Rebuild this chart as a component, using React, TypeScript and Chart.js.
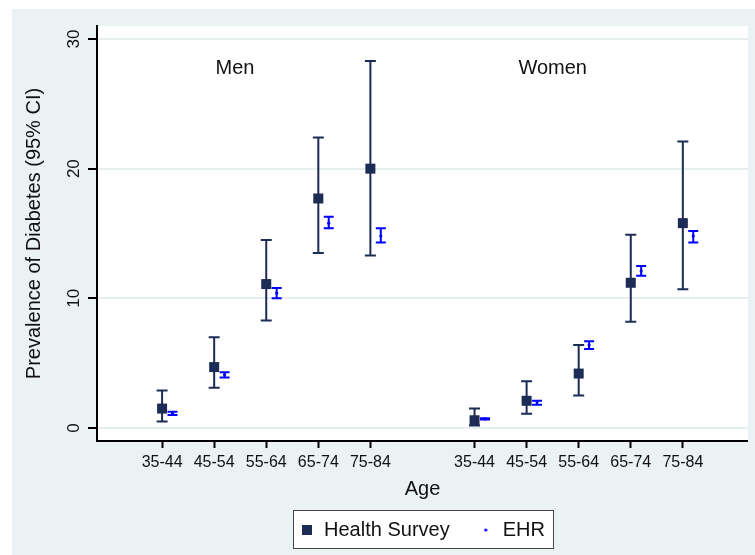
import React, { useEffect, useRef } from "react";
import { Chart, registerables } from "chart.js";

Chart.register(...registerables);

// ---------- data ----------
const ageGroups = ["35-44", "45-54", "55-64", "65-74", "75-84"];
const menX = [1, 2, 3, 4, 5];
const womenX = [7, 8, 9, 10, 11];
const ehrOffset = 0.2;

const menSurvey = [1.5, 4.7, 11.1, 17.7, 20.0];
const menSurveyLow = [0.5, 3.1, 8.3, 13.5, 13.3];
const menSurveyHigh = [2.9, 7.0, 14.5, 22.4, 28.3];
const menEHR = [1.1, 4.1, 10.4, 15.8, 14.8];
const menEHRLow = [1.0, 3.9, 10.0, 15.4, 14.3];
const menEHRHigh = [1.25, 4.3, 10.8, 16.3, 15.4];

const womenSurvey = [0.6, 2.1, 4.2, 11.2, 15.8];
const womenSurveyLow = [0.2, 1.1, 2.5, 8.2, 10.7];
const womenSurveyHigh = [1.5, 3.6, 6.4, 14.9, 22.1];
const womenEHR = [0.7, 2.0, 6.4, 12.1, 14.8];
const womenEHRLow = [0.65, 1.8, 6.1, 11.75, 14.3];
const womenEHRHigh = [0.75, 2.1, 6.7, 12.5, 15.2];

const yTicks = [0, 10, 20, 30];
const panelLabels = ["Men", "Women"];
const panelLabelX = [2.4, 8.5];
const panelLabelY = 27.7;
const seriesNames = ["Health Survey", "EHR"];

// ---------- style ----------
const FONT = "'Liberation Sans', Arial, Helvetica, sans-serif";
const BG = "#EAF2F3";
const GRID = "#E6EEF0";
const NAVY = "#1D2C55";
const BLUE = "#0000FF";
const TEXT = "#111111";
const LEGEND_PAD = 29;
const LEGEND_FONT = 20;

const stataPlugin = {
  id: "stataStyle",
  afterLayout(chart: any) {
    const lg = chart.legend;
    if (lg) {
      lg.left = chart.chartArea.left;
      lg.right = chart.chartArea.right;
      lg.width = lg.right - lg.left;
    }
  },
  beforeDraw(chart: any) {
    const ctx = chart.ctx;
    const { left, top, right, bottom } = chart.chartArea;
    ctx.save();
    ctx.fillStyle = "#ffffff";
    ctx.fillRect(0, 0, chart.width, chart.height);
    ctx.fillStyle = BG;
    ctx.fillRect(12, 9, chart.width - 12, chart.height - 9);
    ctx.fillStyle = "#ffffff";
    ctx.fillRect(left, top, right - left, bottom - top);
    const lg = chart.legend;
    if (lg && lg.lineWidths) {
      const span = lg.lineWidths[0] - LEGEND_PAD;
      const cx = (lg.left + lg.right) / 2;
      const cy = lg.top + LEGEND_PAD + LEGEND_FONT / 2;
      const bx = Math.round(cx - span / 2 - 7) + 0.5;
      const bw = Math.round(span + 15);
      const by = Math.round(cy - 20) + 0.5;
      ctx.fillStyle = "#ffffff";
      ctx.fillRect(bx, by, bw, 38);
      ctx.strokeStyle = "#444444";
      ctx.lineWidth = 1;
      ctx.strokeRect(bx, by, bw, 38);
    }
    ctx.restore();
  },
  beforeDatasetsDraw(chart: any) {
    const ctx = chart.ctx;
    const ys = chart.scales.y;
    ctx.save();
    chart.data.datasets.forEach((ds: any, di: number) => {
      const meta = chart.getDatasetMeta(di);
      ctx.strokeStyle = ds.borderColor;
      ctx.lineWidth = 2;
      const cap = ds.capHalf;
      meta.data.forEach((pt: any, j: number) => {
        const x = pt.x;
        const yl = ys.getPixelForValue(ds.errLow[j]);
        const yh = ys.getPixelForValue(ds.errHigh[j]);
        ctx.beginPath();
        ctx.moveTo(x, yl);
        ctx.lineTo(x, yh);
        ctx.moveTo(x - cap, yl);
        ctx.lineTo(x + cap, yl);
        ctx.moveTo(x - cap, yh);
        ctx.lineTo(x + cap, yh);
        ctx.stroke();
      });
    });
    ctx.restore();
  },
  afterDraw(chart: any) {
    const ctx = chart.ctx;
    const ys = chart.scales.y;
    const xs = chart.scales.x;
    ctx.save();
    ctx.fillStyle = TEXT;
    // rotated y tick labels
    ctx.font = `17px ${FONT}`;
    ctx.textAlign = "center";
    ctx.textBaseline = "middle";
    ys.ticks.forEach((t: any) => {
      const py = ys.getPixelForValue(t.value);
      ctx.save();
      ctx.translate(74, py);
      ctx.rotate(-Math.PI / 2);
      ctx.fillText(String(t.value), 0, 0);
      ctx.restore();
    });
    // panel labels
    ctx.font = `20px ${FONT}`;
    panelLabels.forEach((lab, i) => {
      ctx.fillText(lab, xs.getPixelForValue(panelLabelX[i]), ys.getPixelForValue(panelLabelY));
    });
    ctx.restore();
  },
};

function makeMarker(kind: "square" | "dot"): HTMLCanvasElement {
  const c = document.createElement("canvas");
  if (kind === "square") {
    c.width = 10;
    c.height = 10;
    const g = c.getContext("2d")!;
    g.fillStyle = NAVY;
    g.fillRect(0, 0, 10, 10);
  } else {
    c.width = 4;
    c.height = 4;
    const g = c.getContext("2d")!;
    g.fillStyle = BLUE;
    g.beginPath();
    g.arc(2, 2, 1.6, 0, Math.PI * 2);
    g.fill();
  }
  return c;
}

export default function App() {
  const ref = useRef<HTMLCanvasElement>(null);

  useEffect(() => {
    document.body.style.margin = "0";
    const markers = [makeMarker("square"), makeMarker("dot")];
    const xTickPositions = [...menX, ...womenX];

    const surveyData = [
      ...menX.map((x, i) => ({ x, y: menSurvey[i] })),
      ...womenX.map((x, i) => ({ x, y: womenSurvey[i] })),
    ];
    const ehrData = [
      ...menX.map((x, i) => ({ x: x + ehrOffset, y: menEHR[i] })),
      ...womenX.map((x, i) => ({ x: x + ehrOffset, y: womenEHR[i] })),
    ];

    const chart = new Chart(ref.current!, {
      type: "scatter",
      data: {
        datasets: [
          {
            label: seriesNames[0],
            data: surveyData,
            pointStyle: "rect",
            pointRadius: 7.07,
            pointBackgroundColor: NAVY,
            pointBorderWidth: 0,
            borderColor: NAVY,
            backgroundColor: NAVY,
            errLow: [...menSurveyLow, ...womenSurveyLow],
            errHigh: [...menSurveyHigh, ...womenSurveyHigh],
            capHalf: 5.5,
          } as any,
          {
            label: seriesNames[1],
            data: ehrData,
            pointStyle: "circle",
            pointRadius: 1.6,
            pointBackgroundColor: BLUE,
            pointBorderWidth: 0,
            borderColor: BLUE,
            backgroundColor: BLUE,
            errLow: [...menEHRLow, ...womenEHRLow],
            errHigh: [...menEHRHigh, ...womenEHRHigh],
            capHalf: 5,
          } as any,
        ],
      },
      options: {
        animation: false,
        responsive: false,
        devicePixelRatio: 1,
        events: [],
        layout: { padding: { top: 26, left: 0, right: 0, bottom: 5 } },
        scales: {
          x: {
            type: "linear",
            min: -0.25,
            max: 12.25,
            afterBuildTicks: (scale: any) => {
              scale.ticks = xTickPositions.map((v) => ({ value: v }));
            },
            afterFit: (scale: any) => {
              scale.height = 50;
            },
            ticks: {
              autoSkip: false,
              maxRotation: 0,
              minRotation: 0,
              padding: 5,
              color: TEXT,
              font: { family: FONT, size: 16 },
              callback: (_v: any, i: number) => ageGroups[i % ageGroups.length],
            },
            grid: {
              drawOnChartArea: false,
              drawTicks: true,
              tickLength: 7,
              tickColor: "#000",
              tickWidth: 2,
            },
            border: { display: true, color: "#000", width: 2 },
            title: {
              display: true,
              text: "Age",
              color: TEXT,
              font: { family: FONT, size: 20 },
              padding: { top: 0, bottom: -10 },
            },
          },
          y: {
            type: "linear",
            min: -1,
            max: 31,
            afterBuildTicks: (scale: any) => {
              scale.ticks = yTicks.map((v) => ({ value: v }));
            },
            afterFit: (scale: any) => {
              scale.width = 97;
            },
            ticks: { display: false },
            grid: {
              color: GRID,
              lineWidth: 2,
              drawTicks: true,
              tickLength: 9,
              tickColor: "#000",
              tickWidth: 2,
            },
            border: { display: true, color: "#000", width: 2 },
            title: {
              display: true,
              text: "Prevalence of Diabetes (95% CI)",
              color: TEXT,
              font: { family: FONT, size: 20 },
              padding: { top: 22, bottom: 0 },
            },
          },
        },
        plugins: {
          tooltip: { enabled: false },
          legend: {
            display: true,
            position: "bottom",
            align: "center",
            labels: {
              usePointStyle: true,
              pointStyleWidth: 14,
              padding: LEGEND_PAD,
              color: TEXT,
              font: { family: FONT, size: LEGEND_FONT },
              generateLabels: (ch: any) => {
                const base = (Chart.defaults as any).plugins.legend.labels.generateLabels(ch);
                return base.map((it: any, i: number) => ({ ...it, pointStyle: markers[i] }));
              },
            },
          },
        },
      } as any,
      plugins: [stataPlugin],
    });
    return () => chart.destroy();
  }, []);

  return (
    <canvas
      ref={ref}
      width={755}
      height={555}
      style={{ display: "block", width: 755, height: 555 }}
    />
  );
}
